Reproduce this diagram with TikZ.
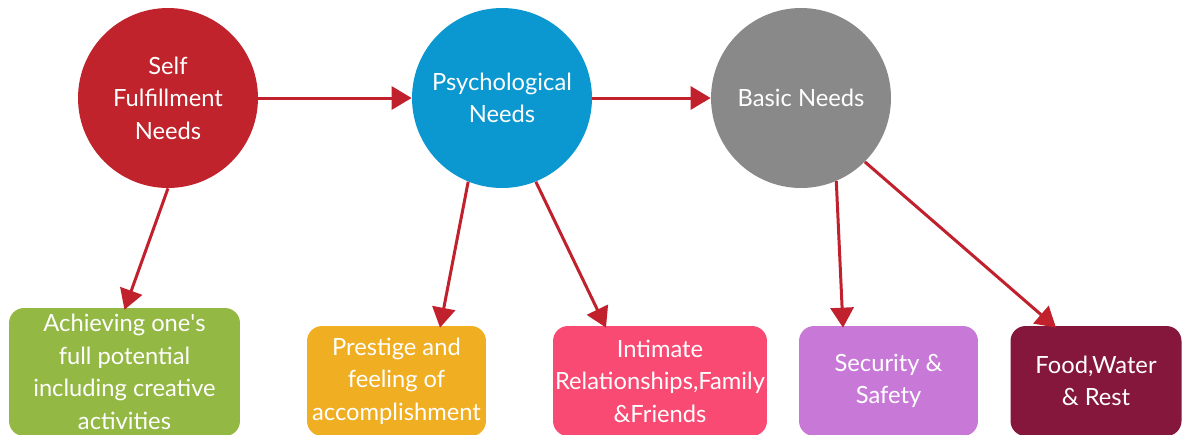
\documentclass[tikz,border=0pt]{standalone}
\usepackage{fontspec}
\setmainfont{Lato}
\usepackage{tikz}
\usepackage{xcolor}
\usetikzlibrary{arrows.meta}
\definecolor{needred}{RGB}{192,35,44}
\definecolor{needblue}{RGB}{11,151,207}
\definecolor{needgray}{RGB}{137,137,137}
\definecolor{linkred}{RGB}{192,33,45}
\definecolor{itemgreen}{RGB}{147,184,67}
\definecolor{itemorange}{RGB}{240,174,34}
\definecolor{itempink}{RGB}{249,74,115}
\definecolor{itemlilac}{RGB}{200,121,216}
\definecolor{itemmaroon}{RGB}{133,22,60}
\begin{document}
\begin{tikzpicture}[x=0.02cm,y=-0.02cm,
  every node/.style={font=\fontsize{13.5}{18.5}\selectfont,text=white,align=center},
  need/.style={circle,minimum size=3.6cm,inner sep=0pt},
  item/.style={rounded corners=0.3cm,minimum height=2.2cm,inner sep=0pt},
  link/.style={draw=linkred,line width=0.06cm,-{Triangle[length=0.4cm,width=0.46cm]}}]
\clip (0,0) rectangle (1182,434);
\node[need,fill=needred] (self) at (168,98) {Self\\Fulfillment\\Needs};
\node[need,fill=needblue] (psych) at (502,98) {Psychological\\Needs};
\node[need,fill=needgray] (basic) at (801,98) {Basic Needs};
\node[item,fill=itemgreen,minimum width=4.62cm,minimum height=2.56cm] (achieve) at (124.5,372)
  {Achieving one\textquotesingle s\\full potential\\including creative\\activities};
\node[item,fill=itemorange,minimum width=3.58cm] (prestige) at (396.5,381)
  {Prestige and\\feeling of\\accomplishment};
\node[item,fill=itempink,minimum width=4.28cm] (intimate) at (660,381)
  {Intimate\\Relationships,Family\\\&Friends};
\node[item,fill=itemlilac,minimum width=3.58cm] (security) at (888.5,381)
  {Security \&\\Safety};
\node[item,fill=itemmaroon,minimum width=3.42cm] (food) at (1096,381)
  {Food,Water\\\& Rest};
\draw[link] (self.east) -- (psych.west);
\draw[link] (psych.east) -- (basic.west);
\draw[link] (self.south) -- ([yshift=-0.04cm]achieve.north);
\draw[link] (psych.-112) -- ([xshift=0.87cm,yshift=-0.04cm]prestige.north);
\draw[link] (psych.-68) -- ([xshift=-1.08cm,yshift=-0.04cm]intimate.north);
\draw[link] (basic.-67) -- ([xshift=-0.91cm,yshift=-0.04cm]security.north);
\draw[link] (basic.-45) -- ([xshift=-0.8cm,yshift=-0.04cm]food.north);
\end{tikzpicture}
\end{document}
